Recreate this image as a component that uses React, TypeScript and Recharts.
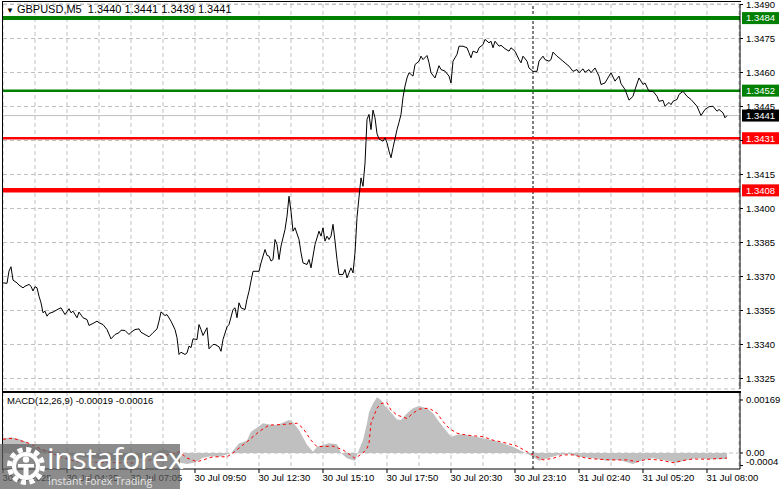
import React from 'react';
import { ComposedChart, Line, Area, XAxis, YAxis, CartesianGrid, ReferenceLine } from 'recharts';

const FONT = "'Liberation Sans', Arial, Helvetica, sans-serif";

const symbolTitle = 'GBPUSD,M5  1.3440 1.3441 1.3439 1.3441';
const macdTitle = 'MACD(12,26,9) -0.00019 -0.00016';

// bar index (M5 bars from left edge) and close price
const priceBars = [0,2,3,4,5,7,8,10,11,13,14,15,16,17,18,19,20,21,22,23,25,28,29,31,33,34,35,37,38,40,42,43,45,47,48,50,52,54,56,58,59,61,63,64,66,68,69,71,73,75,77,78,79,81,82,84,86,87,88,89,91,92,93,94,95,97,98,99,100,102,103,105,106,108,109,110,112,113,115,116,117,118,119,121,122,123,124,125,128,129,131,132,133,134,135,136,137,138,139,141,142,143,144,145,146,148,149,150,152,153,154,155,156,158,159,160,161,162,163,164,165,166,167,168,170,171,172,173,174,175,176,177,178,179,180,181,182,183,184,185,186,187,188,190,191,192,193,194,195,197,198,199,200,201,202,203,205,206,208,209,210,212,213,214,216,218,219,221,223,224,225,227,228,230,232,233,234,235,237,238,240,241,243,244,245,246,248,249,251,253,254,256,258,259,260,262,263,265,267,268,270,271,273,274,275,277,278,280,282,283,285,287,288,290,291,293,294,296,298,299,301,303,304,306,308,309,311,313,315,316,318,319,320,321,323,325,327,328,330,331,333,334,335,337,338,340,342,344,347,349,351,353,355,357,358,360,361,362];
const priceClose = [1.33672,1.33670,1.33724,1.33743,1.33684,1.33672,1.33662,1.33650,1.33657,1.33665,1.33657,1.33636,1.33655,1.33650,1.33613,1.33584,1.33540,1.33547,1.33525,1.33537,1.33543,1.33558,1.33562,1.33532,1.33558,1.33540,1.33547,1.33518,1.33543,1.33518,1.33510,1.33484,1.33493,1.33503,1.33496,1.33488,1.33466,1.33425,1.33444,1.33452,1.33463,1.33462,1.33444,1.33454,1.33466,1.33469,1.33454,1.33444,1.33434,1.33452,1.33469,1.33503,1.33544,1.33528,1.33532,1.33503,1.33466,1.33430,1.33356,1.33366,1.33356,1.33363,1.33393,1.33386,1.33425,1.33422,1.33488,1.33466,1.33440,1.33474,1.33381,1.33400,1.33400,1.33390,1.33370,1.33422,1.33478,1.33488,1.33554,1.33562,1.33518,1.33584,1.33562,1.33554,1.33600,1.33635,1.33680,1.33723,1.33723,1.33760,1.33819,1.33793,1.33790,1.33768,1.33775,1.33863,1.33841,1.33775,1.33834,1.33907,1.33966,1.34054,1.33988,1.33900,1.33915,1.33863,1.33805,1.33760,1.33753,1.33775,1.33738,1.33790,1.33841,1.33900,1.33878,1.33915,1.33856,1.33878,1.33863,1.33878,1.33930,1.33856,1.33775,1.33709,1.33709,1.33731,1.33694,1.33716,1.33738,1.33716,1.33805,1.33960,1.34050,1.34135,1.34098,1.34200,1.34393,1.34415,1.34348,1.34434,1.34400,1.34330,1.34307,1.34297,1.34312,1.34290,1.34253,1.34224,1.34268,1.34348,1.34380,1.34415,1.34490,1.34540,1.34576,1.34599,1.34584,1.34635,1.34650,1.34672,1.34657,1.34675,1.34643,1.34599,1.34576,1.34630,1.34613,1.34606,1.34584,1.34554,1.34650,1.34680,1.34716,1.34716,1.34709,1.34687,1.34665,1.34694,1.34687,1.34709,1.34723,1.34746,1.34731,1.34738,1.34709,1.34738,1.34716,1.34720,1.34705,1.34694,1.34709,1.34694,1.34657,1.34643,1.34672,1.34650,1.34620,1.34605,1.34605,1.34650,1.34672,1.34657,1.34650,1.34657,1.34690,1.34672,1.34665,1.34650,1.34635,1.34628,1.34605,1.34613,1.34599,1.34616,1.34601,1.34613,1.34599,1.34620,1.34584,1.34547,1.34554,1.34584,1.34599,1.34562,1.34584,1.34551,1.34525,1.34478,1.34495,1.34525,1.34576,1.34562,1.34547,1.34554,1.34517,1.34517,1.34495,1.34473,1.34477,1.34451,1.34468,1.34458,1.34473,1.34481,1.34503,1.34517,1.34495,1.34481,1.34451,1.34410,1.34437,1.34449,1.34451,1.34429,1.34437,1.34422,1.34400,1.34410];

const macdBars = [0,4,8,12,15,20,25,30,35,42,50,56,62,68,74,78,81,85,88,92,96,100,104,108,112,114,118,122,124,128,130,134,137,141,143,145,148,152,155,157,163,167,169,172,176,178,180,182,183,185,187,189,191,193,197,199,202,205,208,212,215,218,222,224,228,233,240,245,250,255,260,265,268,272,278,283,288,295,302,308,315,320,325,332,337,342,347,352,357,362];
const macdMain = [0.00046,0.00050,0.00045,0.00035,0.00020,0.00012,0.00005,0.0,-0.00010,-0.00015,-0.00020,-0.00025,-0.00022,-0.00018,-0.00010,0.00008,0.00010,0.0,-0.00030,-0.00035,-0.00030,-0.00015,-0.00010,-0.00012,-0.00005,0.0,0.00030,0.00040,0.00068,0.00085,0.00095,0.00090,0.00089,0.00100,0.00105,0.00098,0.00073,0.00026,0.00004,0.00020,0.00031,0.00028,0.0,-0.00017,-0.00025,0.00010,0.00041,0.00095,0.00130,0.00158,0.00178,0.00169,0.00150,0.00137,0.00107,0.00105,0.00127,0.00143,0.00150,0.00143,0.00127,0.00100,0.00068,0.00052,0.00060,0.00057,0.00047,0.00041,0.00031,0.00020,0.00004,-0.00012,-0.00025,-0.00017,-0.00006,-0.00003,-0.00012,-0.00017,-0.00025,-0.00022,-0.00035,-0.00022,-0.00017,-0.00025,-0.00031,-0.00022,-0.00017,-0.00020,-0.00020,-0.00019];

const signalBars = [0,5,13,20,30,37,50,65,75,82,88,92,97,105,112,115,122,128,133,140,147,150,154,157,165,170,176,180,182,183,184,187,189,192,194,197,202,205,208,213,217,220,223,227,232,240,245,252,257,262,265,270,275,280,285,292,298,305,312,317,322,328,335,340,345,352,362];
const signalValues = [0.00044,0.00047,0.00031,0.00010,-0.00015,-0.00028,-0.00030,-0.00032,-0.00020,-0.00006,0.00004,-0.00016,-0.00028,-0.00012,-0.00012,0.0,0.00036,0.00068,0.00089,0.00091,0.00095,0.00079,0.00041,0.00020,0.00022,0.00010,-0.00017,0.0,0.00015,0.00031,0.00095,0.00143,0.00158,0.00160,0.00137,0.00121,0.00110,0.00127,0.00140,0.00143,0.00127,0.00100,0.00079,0.00063,0.00057,0.00052,0.00041,0.00031,0.00022,0.00004,-0.00006,-0.00022,-0.00017,-0.00006,-0.00006,-0.00017,-0.00020,-0.00022,-0.00022,-0.00028,-0.00020,-0.00022,-0.00031,-0.00024,-0.00019,-0.00020,-0.00016];

const timeTickBars = [0,32,64,96,128,160,192,224,256,288,320,352];
const timeTickLabels = ['30 Jul 2025','30 Jul 04:25','30 Jul 07:05','30 Jul 09:50','30 Jul 12:30','30 Jul 15:10','30 Jul 17:50','30 Jul 20:30','30 Jul 23:10','31 Jul 02:40','31 Jul 05:20','31 Jul 08:00'];
const gridBars = [0,16,32,48,64,80,96,112,128,144,160,176,192,208,224,240,256,272,288,304,320,336,352,368];
const barDomain: [number, number] = [0, 368.5];
const daySeparatorBar = 265;

const priceTicks = [1.3325,1.334,1.3355,1.337,1.3385,1.34,1.3415,1.343,1.3445,1.346,1.3475,1.349];
const priceDomain: [number, number] = [1.332037, 1.349022];

const levelValues = [1.3484, 1.3452, 1.3431, 1.3408];
const levelColors = ['#008000', '#008000', '#ff0000', '#ff0000'];
const levelWidths = [4, 2.5, 2.5, 4.5];
const lastPrice = 1.3441;

const macdTicks = [-0.0004, 0, 0.00169];
const macdTickLabels = ['-0.0004', '0.00', '0.00169'];
const macdDomain: [number, number] = [-0.00051, 0.001945];

const priceData = priceBars.map((b, i) => ({ bar: b, close: priceClose[i] }));

const macdData = (() => {
  const all = Array.from(new Set([...macdBars, ...signalBars])).sort((a, b) => a - b);
  return all.map((b) => {
    const mi = macdBars.indexOf(b);
    const si = signalBars.indexOf(b);
    return { bar: b, main: mi >= 0 ? macdMain[mi] : null, signal: si >= 0 ? signalValues[si] : null };
  });
})();

const makeTag = (bg: string, text: string) => (props: any) => {
  const vb = props.viewBox || {};
  const x = (vb.x || 0) + (vb.width || 0) + 2;
  const y = vb.y || 0;
  return (
    <g>
      <rect x={x} y={y - 6} width={37} height={12} fill={bg} />
      <text x={x + 4} y={y} dy="0.35em" fill="#fff" fontSize={9.5} fontFamily={FONT}>{text}</text>
    </g>
  );
};

const PriceTick = (props: any) => {
  const { x, y, payload } = props;
  if (Math.abs(payload.value - 1.343) < 1e-7) return <g />;
  return (
    <text x={x} y={y} dy="0.35em" fill="#000" fontSize={9.5} fontFamily={FONT} textAnchor="start">
      {Number(payload.value).toFixed(4)}
    </text>
  );
};

const MacdTick = (props: any) => {
  const { x, y, payload } = props;
  const idx = macdTicks.findIndex((t) => Math.abs(t - payload.value) < 1e-9);
  const label = idx >= 0 ? macdTickLabels[idx] : '';
  const shift = payload.value < 0 ? -3.5 : 0;
  return (
    <text x={x} y={y + shift} dy="0.35em" fill="#000" fontSize={9.5} fontFamily={FONT} textAnchor="start">
      {label}
    </text>
  );
};

// x axis ticks every 16 bars (grid); only every 32nd bar gets a tick mark and label
const TimeTick = (props: any) => {
  const { x, y, payload } = props;
  const idx = timeTickBars.indexOf(payload.value);
  if (idx < 0) return <g />;
  return (
    <g>
      <line x1={x} x2={x} y1={y - 5} y2={y - 1} stroke="#000" />
      <text x={x - 0.5} y={y} dy="0.71em" fill="#000" fontSize={9.5} fontFamily={FONT} textAnchor="start">
        {timeTickLabels[idx]}
      </text>
    </g>
  );
};

const Gear = () => (
  <svg width={40} height={40} viewBox="0 0 40 40" style={{ position: 'absolute', left: 6, top: 2 }}>
    <circle cx={20} cy={20} r={16.5} fill="none" stroke="#fff" strokeWidth={5} strokeDasharray="5 3.6" />
    <circle cx={20} cy={20} r={12} fill="none" stroke="#fff" strokeWidth={4} />
    <circle cx={20} cy={13.5} r={3.2} fill="#fff" />
    <rect x={17.5} y={18} width={5} height={14} fill="#fff" />
    <rect x={12} y={18} width={16} height={3.5} fill="#fff" />
  </svg>
);

export default function App() {
  return (
    <div style={{ position: 'absolute', left: 0, top: 0, width: 781, height: 489, background: '#fff', overflow: 'hidden', fontFamily: FONT }}>
      <div style={{ position: 'absolute', left: 0, top: 0 }}>
        <ComposedChart width={781} height={392} data={priceData} margin={{ top: 4, right: 0, bottom: 3, left: 3 }}>
          <CartesianGrid stroke="#c0c0c0" strokeDasharray="4 3" />
          <XAxis dataKey="bar" type="number" domain={barDomain} ticks={gridBars} allowDataOverflow hide />
          <YAxis
            orientation="right"
            type="number"
            domain={priceDomain}
            ticks={priceTicks}
            interval={0}
            allowDataOverflow
            width={41}
            axisLine={{ stroke: '#000' }}
            tickLine={{ stroke: '#000' }}
            tickSize={3}
            tickMargin={3}
            tick={<PriceTick />}
          />
          <ReferenceLine x={daySeparatorBar} stroke="#000" strokeDasharray="3 2" />
          <ReferenceLine y={lastPrice} stroke="#c0c0c0" strokeWidth={1} label={makeTag('#000', lastPrice.toFixed(4))} />
          {levelValues.map((v, i) => (
            <ReferenceLine key={v} y={v} stroke={levelColors[i]} strokeWidth={levelWidths[i]} label={makeTag(levelColors[i], v.toFixed(4))} />
          ))}
          <Line dataKey="close" type="linear" stroke="#000" strokeWidth={1} dot={false} isAnimationActive={false} />
        </ComposedChart>
      </div>
      <div style={{ position: 'absolute', left: 0, top: 391 }}>
        <ComposedChart width={781} height={98} data={macdData} margin={{ top: 1, right: 0, bottom: 0, left: 3 }}>
          <CartesianGrid stroke="#c0c0c0" strokeDasharray="4 3" horizontal={false} />
          <XAxis
            dataKey="bar"
            type="number"
            domain={barDomain}
            ticks={gridBars}
            interval={0}
            allowDataOverflow
            height={20}
            axisLine={{ stroke: '#000' }}
            tickLine={false}
            tickSize={4}
            tickMargin={1}
            tick={<TimeTick />}
          />
          <YAxis
            orientation="right"
            type="number"
            domain={macdDomain}
            ticks={macdTicks}
            interval={0}
            allowDataOverflow
            width={41}
            axisLine={{ stroke: '#000' }}
            tickLine={{ stroke: '#000' }}
            tickSize={3}
            tickMargin={3}
            tick={<MacdTick />}
          />
          <ReferenceLine y={0} stroke="#c0c0c0" strokeDasharray="4 3" />
          <Area dataKey="main" type="linear" fill="#c0c0c0" fillOpacity={1} stroke="none" baseValue={0} connectNulls dot={false} activeDot={false} isAnimationActive={false} />
          <Line dataKey="signal" type="linear" stroke="#ff0000" strokeWidth={1} strokeDasharray="3 3" connectNulls dot={false} isAnimationActive={false} />
          <ReferenceLine x={daySeparatorBar} stroke="#000" strokeDasharray="3 2" />
        </ComposedChart>
      </div>
      {/* panel frames */}
      <div style={{ position: 'absolute', left: 2, top: 1, width: 739, height: 391, border: '1px solid #000', borderRight: 'none', boxSizing: 'border-box', pointerEvents: 'none' }} />
      <div style={{ position: 'absolute', left: 2, top: 392, width: 739, height: 78, border: '1px solid #000', borderRight: 'none', borderBottom: 'none', boxSizing: 'border-box', pointerEvents: 'none' }} />
      {/* titles */}
      <div style={{ position: 'absolute', left: 6, top: 3, fontSize: 11, color: '#000', whiteSpace: 'pre', lineHeight: '13px' }}>
        <span style={{ fontSize: 8, marginRight: 3 }}>▼</span>{symbolTitle}
      </div>
      <div style={{ position: 'absolute', left: 7, top: 395, fontSize: 9.5, color: '#000', whiteSpace: 'pre', lineHeight: '12px' }}>{macdTitle}</div>
      {/* watermark */}
      <div style={{ position: 'absolute', left: 0, top: 444, width: 180, height: 45, background: 'rgba(95,95,95,0.72)' }}>
        <Gear />
        <div style={{ position: 'absolute', left: 47, top: -4, fontSize: 30, color: '#fff', fontFamily: "'Open Sans', sans-serif", lineHeight: '36px', letterSpacing: -0.4 }}>instaforex</div>
        <div style={{ position: 'absolute', left: 48, top: 31, fontSize: 10.5, color: '#e6e6e6', fontFamily: "'Open Sans', sans-serif", lineHeight: '13px' }}>Instant Forex Trading</div>
      </div>
    </div>
  );
}
